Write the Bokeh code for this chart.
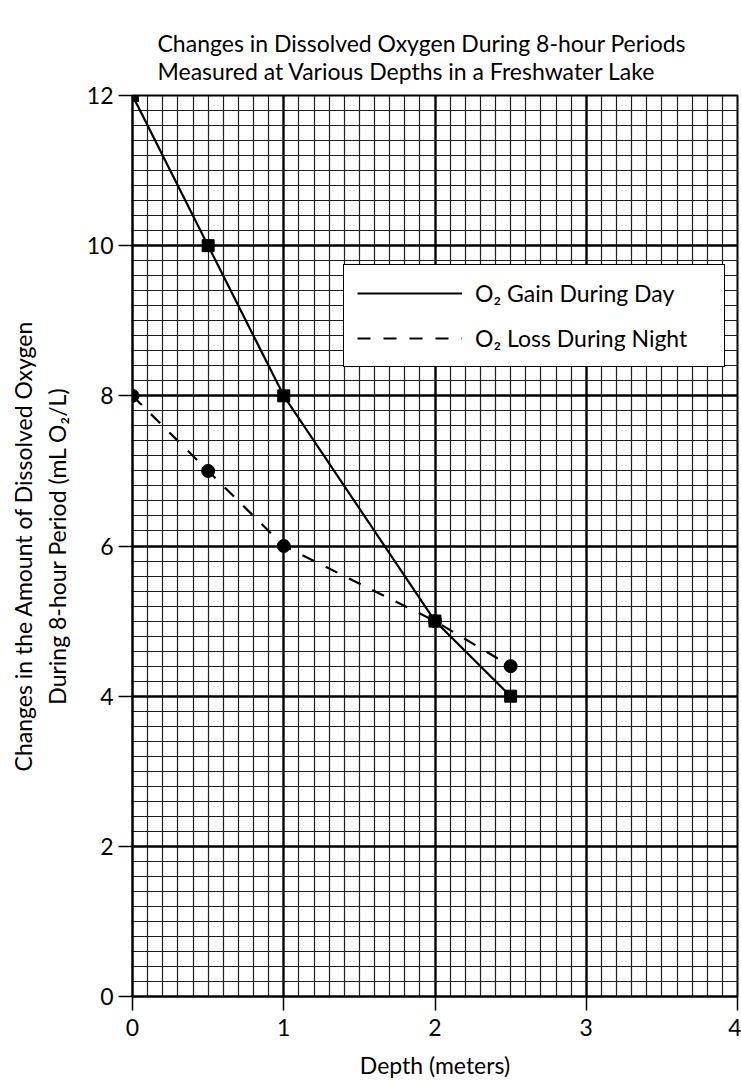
from bokeh.plotting import figure
from bokeh.models import FixedTicker, Legend, LegendItem
from bokeh.embed import file_html
from bokeh.resources import INLINE

# ---- data ----
depth = [0, 0.5, 1, 2, 2.5]
gain_day = [12, 10, 8, 5, 4]
loss_night = [8, 7, 6, 5, 4.4]
x_ticks = [0, 1, 2, 3, 4]
y_ticks = [0, 2, 4, 6, 8, 10, 12]
x_tick_labels = ["0", "1", "2", "3", "4"]
y_tick_labels = ["0", "2", "4", "6", "8", "10", "12"]
title_lines = ["Changes in Dissolved Oxygen During 8-hour Periods",
               "Measured at Various Depths in a Freshwater Lake"]
y_label_lines = ["Changes in the Amount of Dissolved Oxygen",
                 "During 8-hour Period (mL O\u2082/L)"]
x_label = "Depth (meters)"
series_names = ["O\u2082 Gain During Day", "O\u2082 Loss During Night"]

FONT = "Lato"
FS = "23px"

x_minor = [round(i * 0.1, 2) for i in range(0, 41) if i % 10 != 0]
y_minor = [round(i * 0.2, 2) for i in range(0, 61) if i % 10 != 0]

p = figure(width=741, height=1081, x_range=(0, 4), y_range=(0, 12),
           output_backend="svg", toolbar_location=None,
           min_border_left=132, min_border_right=4,
           min_border_top=95, min_border_bottom=78)
p.background_fill_color = "white"
p.border_fill_color = "white"
p.outline_line_color = "black"
p.outline_line_width = 2
p.outline_line_alpha = 1

# two-line title
p.title.text = "\n".join(title_lines)
p.title.align = "left"
p.title.offset = 25
p.title.text_font = FONT
p.title.text_font_size = FS
p.title.text_font_style = "normal"
p.title.text_color = "black"
p.title.standoff = 21

# grid
p.xgrid.ticker = FixedTicker(ticks=x_ticks, minor_ticks=x_minor)
p.ygrid.ticker = FixedTicker(ticks=y_ticks, minor_ticks=y_minor)
for g in (p.xgrid, p.ygrid):
    g.grid_line_color = "black"
    g.grid_line_width = 2.4
    g.grid_line_alpha = 1
    g.minor_grid_line_color = "#1e1e1e"
    g.minor_grid_line_width = 1.2
    g.minor_grid_line_alpha = 1

# axes
p.xaxis.ticker = FixedTicker(ticks=x_ticks)
p.yaxis.ticker = FixedTicker(ticks=y_ticks)
p.xaxis.major_label_overrides = {t: s for t, s in zip(x_ticks, x_tick_labels)}
p.yaxis.major_label_overrides = {t: s for t, s in zip(y_ticks, y_tick_labels)}
for ax in (p.xaxis, p.yaxis):
    ax.axis_line_color = "black"
    ax.axis_line_width = 2
    ax.major_tick_out = 14
    ax.major_tick_in = 0
    ax.major_tick_line_color = "black"
    ax.major_tick_line_width = 1.5
    ax.minor_tick_line_color = None
    ax.major_label_text_font = FONT
    ax.major_label_text_font_size = FS
    ax.major_label_text_color = "black"
    ax.axis_label_text_font = FONT
    ax.axis_label_text_font_size = FS
    ax.axis_label_text_font_style = "normal"
    ax.axis_label_text_color = "black"
p.xaxis.major_label_standoff = 8
p.yaxis.major_label_standoff = 5
p.xaxis.axis_label = x_label
p.xaxis.axis_label_standoff = 12
p.yaxis.axis_label = "\n".join(y_label_lines)
p.yaxis.axis_label_standoff = 13

# data
l1 = p.line(depth, gain_day, line_color="black", line_width=2.2)
p.scatter(depth, gain_day, marker="square", size=12, color="black")
l2 = p.line(depth, loss_night, line_color="black", line_width=2.2, line_dash="13 13")
p.scatter(depth, loss_night, marker="circle", size=13, color="black")

legend = Legend(items=[LegendItem(label=series_names[0], renderers=[l1]),
                       LegendItem(label=series_names[1], renderers=[l2])],
                location=(211, 629))
legend.border_line_color = "black"
legend.border_line_width = 1
legend.border_line_alpha = 1
legend.background_fill_color = "white"
legend.background_fill_alpha = 1
legend.label_text_font = FONT
legend.label_text_font_size = FS
legend.label_text_color = "black"
legend.glyph_width = 105
legend.glyph_height = 30
legend.label_standoff = 13
legend.label_width = 236
legend.padding = 13
legend.spacing = 15
legend.margin = 0
p.add_layout(legend, "center")

open("out.html", "w").write(file_html(p, INLINE))
